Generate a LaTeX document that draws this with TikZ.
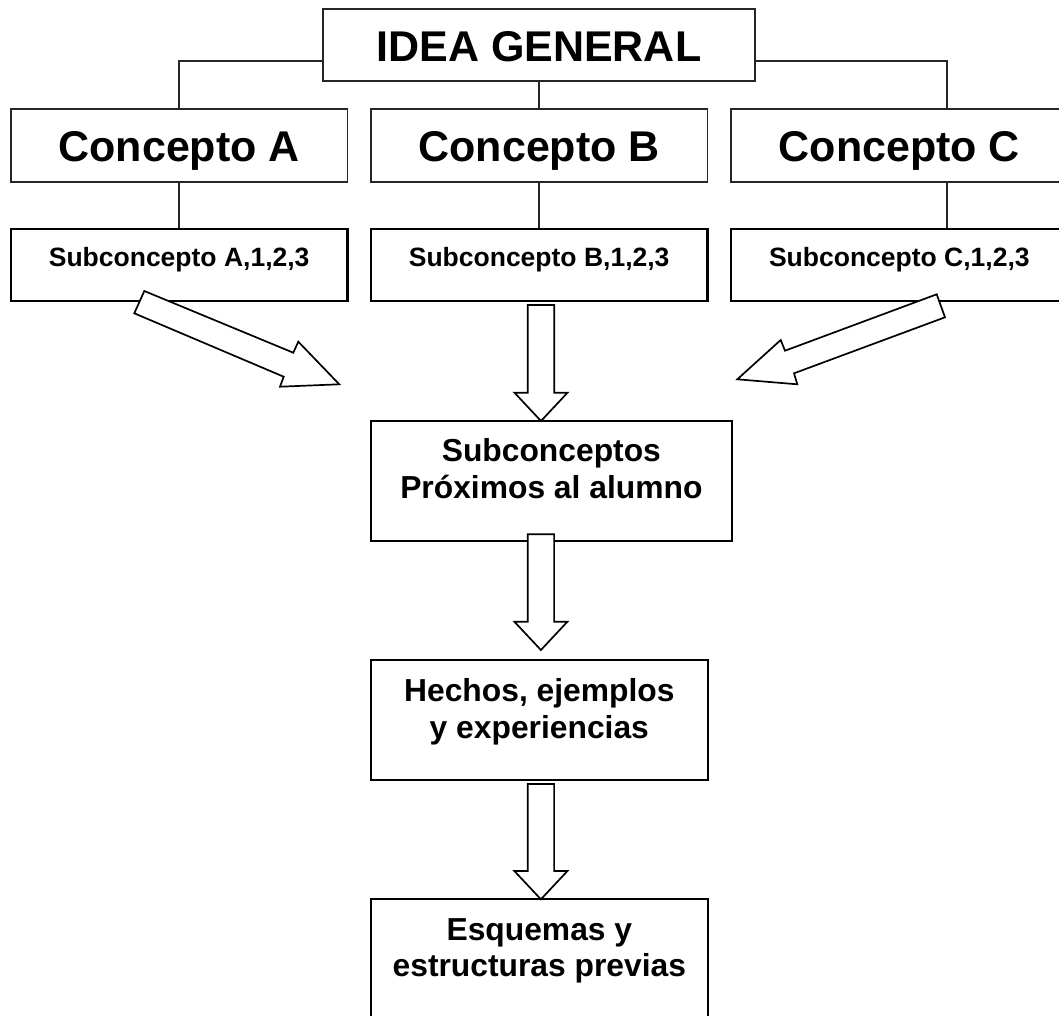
\documentclass[tikz,border=0pt]{standalone}
\usepackage{fontspec}
\setmainfont{Liberation Sans}
\newcommand\blockdown[3]{%
  \draw[barrow] ({#1-13.2},#2) -- ({#1+13.2},#2) -- ({#1+13.2},{#3-28.3}) -- ({#1+26.5},{#3-28.3})
    -- (#1,#3) -- ({#1-26.5},{#3-28.3}) -- ({#1-13.2},{#3-28.3}) -- cycle;}
\begin{document}
\begin{tikzpicture}[x=1pt,y=-1pt,
  topbox/.style={draw=black!85, line width=1.8pt, fill=white, inner sep=0pt, minimum height=72.5pt},
  subbox/.style={draw=black, line width=2.3pt, fill=white, inner sep=0pt, minimum height=72.3pt, minimum width=336.7pt},
  lowbox/.style={draw=black, line width=2.1pt, fill=white, inner sep=0pt, minimum height=120pt, minimum width=336.7pt},
  conn/.style={draw=black!85, line width=1.6pt},
  barrow/.style={draw=black, line width=1.7pt, fill=white, line join=miter},
  bigtxt/.style={font=\bfseries\fontsize{43}{50}\selectfont, anchor=base, inner sep=0pt},
  smalltxt/.style={font=\bfseries\fontsize{26.5}{31}\selectfont, anchor=base, inner sep=0pt},
  midtxt/.style={font=\bfseries\fontsize{31.8}{37}\selectfont, anchor=base, inner sep=0pt}]
\clip (0,0) rectangle (1059,1015);
\fill[white] (0,0) rectangle (1059,1015);

% boxes
\node[topbox, minimum width=432.2pt, minimum height=72pt] (idea) at (538.9,45.3) {};
\node[topbox, minimum width=336.7pt] (cA) at (179.15,145.35) {};
\node[topbox, minimum width=336.7pt] (cB) at (539.15,145.35) {};
\node[topbox, minimum width=336.7pt] (cC) at (899.35,145.35) {};
\node[subbox] (sA) at (179.15,264.85) {};
\node[subbox] (sB) at (539.15,264.85) {};
\node[subbox] (sC) at (899.35,264.85) {};
\node[lowbox, minimum width=360.7pt] (sub) at (551.35,480.7) {};
\node[lowbox] (hech) at (539.35,720.35) {};
\node[lowbox] (esq) at (539.35,959.3) {};

% texts
\node[bigtxt] (ideat) at (538.9,61.7) {IDEA GENERAL};
\node[bigtxt] (cAt) at (179.15,161.7) {Concepto A};
\node[bigtxt] (cBt) at (539.15,161.7) {Concepto B};
\node[bigtxt] (cCt) at (899.35,161.7) {Concepto C};
\node[smalltxt] (sAt) at (179.15,266) {Subconcepto A,1,2,3};
\node[smalltxt] (sBt) at (539.15,266) {Subconcepto B,1,2,3};
\node[smalltxt] (sCt) at (899.35,266) {Subconcepto C,1,2,3};
\node[midtxt] (subt1) at (551.35,461.7) {Subconceptos};
\node[midtxt] (subt2) at (551.35,498.3) {Próximos al alumno};
\node[midtxt] (hecht1) at (539.35,701.7) {Hechos, ejemplos};
\node[midtxt] (hecht2) at (539.35,738.3) {y experiencias};
\node[midtxt] (esqt1) at (539.35,940.3) {Esquemas y};
\node[midtxt] (esqt2) at (539.35,976.7) {estructuras previas};

% connectors
\coordinate (yl) at (0,61);
\coordinate (xc) at (947,0);
\draw[conn] (idea.west |- yl) -| (cA.north);
\draw[conn] (idea.south) -- (cB.north -| idea.south);
\draw[conn] (idea.east |- yl) -| (cC.north -| xc);
\draw[conn] (cA.south) -- (sA.north);
\draw[conn] (cB.south -| idea.south) -- (sB.north -| idea.south);
\draw[conn] (cC.south -| xc) -- (sC.north -| xc);

% block arrows
\draw[barrow] (144.3,291) -- (293.3,352.7) -- (298.3,341.7) -- (339.3,384.3)
  -- (280,386.7) -- (283.7,376.7) -- (134.3,313.3) -- cycle;
\draw[barrow] (936.7,294.3) -- (945,317.3) -- (794,373.3) -- (797.3,384.3)
  -- (737.3,379.3) -- (780.7,340) -- (785,350.7) -- cycle;
\blockdown{541}{305}{421}
\blockdown{540.9}{534.3}{650}
\blockdown{540.9}{784}{899.3}
\end{tikzpicture}
\end{document}
